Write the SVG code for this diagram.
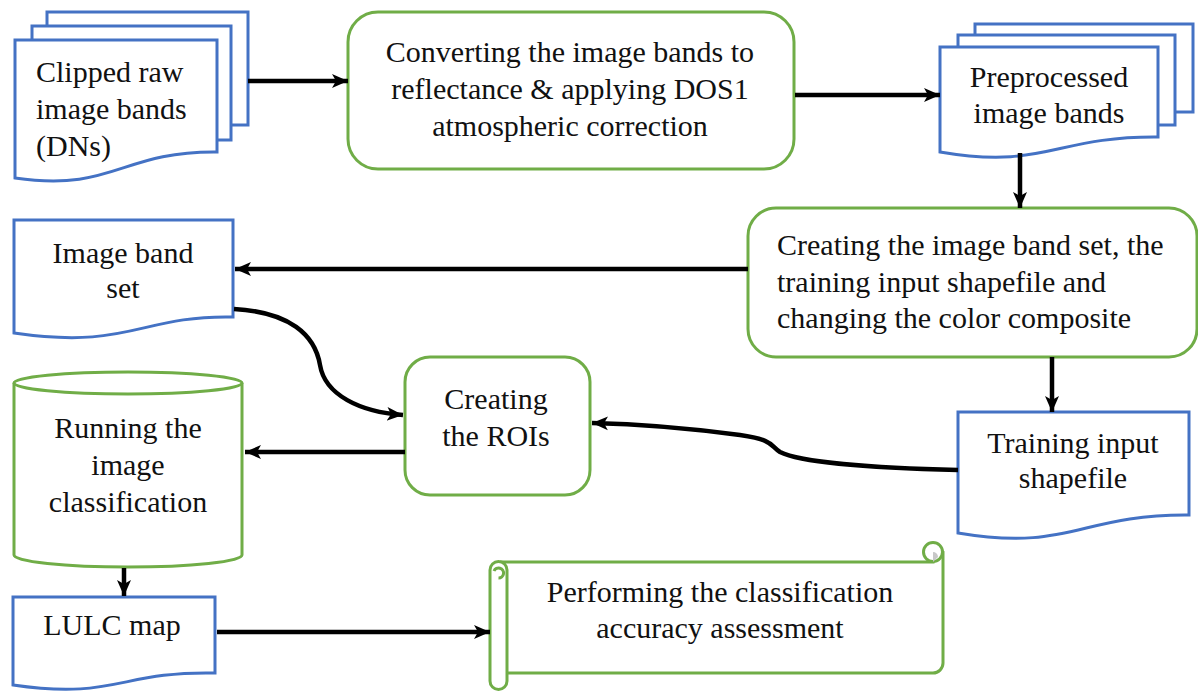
<svg xmlns="http://www.w3.org/2000/svg" width="1198" height="691" viewBox="0 0 1198 691">
<defs>
<marker id="arr" markerUnits="userSpaceOnUse" markerWidth="18" markerHeight="16" refX="16" refY="8" orient="auto">
<path d="M0,1 L16,8 L0,15 L4,8 Z" fill="#000"/>
</marker>
<style>
.blue{fill:#fff;stroke:#4472C4;stroke-width:3}
.green{fill:#fff;stroke:#70AD47;stroke-width:3}
.t{font-family:"Liberation Serif","Times New Roman",serif;font-size:30px;fill:#111}
.c{text-anchor:middle}
.conn path{fill:none;stroke:#000;stroke-width:4.5;marker-end:url(#arr)}
</style>
</defs>
<rect width="1198" height="691" fill="#fff"/>

<g id="n1">
<rect class="blue" x="47" y="12" width="201" height="113"/>
<rect class="blue" x="32" y="26" width="199" height="114"/>
<path class="blue" d="M15,40 H217 V152 C120,151 115,192 15,178 Z"/>
<text class="t" x="36"><tspan x="36" y="82">Clipped raw</tspan><tspan x="36" y="119">image bands</tspan><tspan x="36" y="156">(DNs)</tspan></text>
</g>

<g id="n2">
<rect class="green" x="348" y="12" width="446" height="157" rx="30"/>
<text class="t c"><tspan x="570" y="62">Converting the image bands to</tspan><tspan x="570" y="99">reflectance &amp; applying DOS1</tspan><tspan x="570" y="136">atmospheric correction</tspan></text>
</g>

<g id="n3">
<rect class="blue" x="975" y="24" width="218" height="88"/>
<rect class="blue" x="958" y="35" width="217" height="90"/>
<path class="blue" d="M940,47 H1158 V137 C1055,136 1045,170 940,152 Z"/>
<text class="t c"><tspan x="1049" y="87">Preprocessed</tspan><tspan x="1049" y="123">image bands</tspan></text>
</g>

<g id="n4">
<rect class="green" x="748" y="208" width="449" height="149" rx="28"/>
<text class="t"><tspan x="777" y="255">Creating the image band set, the</tspan><tspan x="777" y="292">training input shapefile and</tspan><tspan x="777" y="328">changing the color composite</tspan></text>
</g>

<g id="n5">
<path class="blue" d="M14,220 H233 V317 C140,315 130,350 14,333 Z"/>
<text class="t c"><tspan x="123" y="263">Image band</tspan><tspan x="123" y="298">set</tspan></text>
</g>

<g id="n6">
<rect class="green" x="405" y="357" width="185" height="138" rx="25"/>
<text class="t c"><tspan x="496" y="409">Creating</tspan><tspan x="496" y="446">the ROIs</tspan></text>
</g>

<g id="n7">
<path class="green" d="M14,383 A114,11 0 0 1 242,383 V555 A114,12 0 0 1 14,555 Z"/>
<path class="green" style="fill:none" d="M14,383 A114,11 0 0 0 242,383"/>
<text class="t c"><tspan x="128" y="438">Running the</tspan><tspan x="128" y="475">image</tspan><tspan x="128" y="512">classification</tspan></text>
</g>

<g id="n8">
<path class="blue" d="M13,597 H215 V673 C120,671 115,700 13,685 Z"/>
<text class="t c"><tspan x="112" y="635">LULC map</tspan></text>
</g>

<g id="n9">
<path class="green" d="M500,562 H933 V552 A10,10 0 0 1 943,552 V663 A10,10 0 0 1 933,673 H507"/>
<circle cx="933" cy="552" r="9.5" fill="#fff" stroke="#70AD47" stroke-width="3"/>
<path d="M933,552 A5,5 0 0 1 938,557 L933,562 Z" fill="#c8c8c8"/>
<path class="green" d="M490,570 A8.5,8.5 0 0 1 507,570 V681 A8.5,8.5 0 0 1 490,681 Z"/>
<path fill="none" stroke="#70AD47" stroke-width="3" d="M498.5,578 A5,5 0 1 0 494,571"/>
<text class="t c"><tspan x="720" y="602">Performing the classification</tspan><tspan x="720" y="638">accuracy assessment</tspan></text>
</g>

<g id="n10">
<path class="blue" d="M958,412 H1189 V515 C1080,514 1070,552 958,533 Z"/>
<text class="t c"><tspan x="1073" y="453">Training input</tspan><tspan x="1073" y="488">shapefile</tspan></text>
</g>

<g id="connectors" class="conn">
<path d="M248,81 H348"/>
<path d="M795,95 H940"/>
<path d="M1020,153 V208"/>
<path d="M748,269 H235"/>
<path d="M1052,357 V412"/>
<path d="M234,309 C290,312 315,335 320,365 C325,395 360,412 403,415"/>
<path d="M958,470 C870,468 800,462 780,452 C770,446 775,440 740,435 C680,427 640,424 592,423"/>
<path d="M405,452 H245"/>
<path d="M124,568 V596"/>
<path d="M217,632 H490"/>
</g>
</svg>
